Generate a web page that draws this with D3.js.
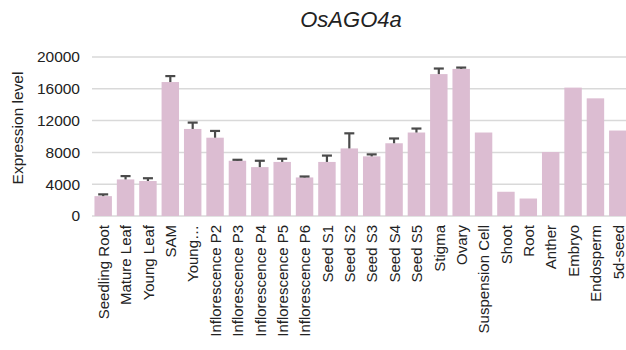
<!DOCTYPE html>
<html>
<head>
<meta charset="utf-8">
<script src="https://cdn.jsdelivr.net/npm/d3@7"></script>
<style>
  html, body { margin: 0; padding: 0; background: #fff; }
  svg { display: block; font-family: "Liberation Sans", Arial, sans-serif; }
</style>
</head>
<body>
<svg id="chart" width="626" height="350"></svg>
<script>
// Tissue expression of OsAGO4a
const tissues = [
  "Seedling Root", "Mature Leaf", "Young Leaf", "SAM", "Young\u2026",
  "Inflorescence P2", "Inflorescence P3", "Inflorescence P4", "Inflorescence P5", "Inflorescence P6",
  "Seed S1", "Seed S2", "Seed S3", "Seed S4", "Seed S5",
  "Stigma", "Ovary", "Suspension Cell", "Shoot", "Root",
  "Anther", "Embryo", "Endosperm", "5d-seed"
];
const expression = [
  2500, 4600, 4400, 16850, 10950,
  9850, 6950, 6150, 6800, 4850,
  6800, 8500, 7500, 9150, 10500,
  17850, 18500, 10500, 3050, 2200,
  8050, 16150, 14800, 10750
];
// upper error (standard deviation); null where no replicate error is shown
const errorUp = [
  220, 420, 350, 750, 800,
  850, 120, 800, 400, 120,
  800, 1900, 250, 600, 500,
  700, 170, null, null, null,
  null, null, null, null
];
const yTicks = [0, 4000, 8000, 12000, 16000, 20000];
const title = "OsAGO4a";
const yTitle = "Expression level";

const svg = d3.select("#chart");
const margin = { left: 92, right: -3, top: 57, bottom: 134 };
const W = 626, H = 350;

const x = d3.scaleBand()
  .domain(tissues)
  .range([margin.left, W - margin.right])
  .paddingInner(0.22)
  .paddingOuter(0.11);

const y = d3.scaleLinear()
  .domain([0, 20000])
  .range([H - margin.bottom, margin.top]);

// horizontal gridlines
svg.append("g")
  .selectAll("line")
  .data(yTicks)
  .join("line")
  .attr("x1", margin.left)
  .attr("x2", W)
  .attr("y1", d => y(d))
  .attr("y2", d => y(d))
  .attr("stroke", "#d9d9d9")
  .attr("stroke-width", 1.5);

// y tick labels
const yAxis = d3.axisLeft(y).tickValues(yTicks).tickSize(0).tickPadding(0).tickFormat(d3.format("d"));
const gy = svg.append("g")
  .attr("transform", `translate(${margin.left - 12},0)`)
  .call(yAxis);
gy.select(".domain").remove();
gy.selectAll("text")
  .attr("fill", "#222")
  .attr("font-size", "15.5px")
  .attr("font-family", "Liberation Sans, Arial, sans-serif");

// bars
svg.append("g")
  .selectAll("rect")
  .data(tissues)
  .join("rect")
  .attr("x", d => x(d))
  .attr("width", x.bandwidth())
  .attr("y", (d, i) => y(expression[i]))
  .attr("height", (d, i) => y(0) - y(expression[i]))
  .attr("fill", "#dcbdd2");

// error bars (upper only)
const errData = tissues.map((t, i) => ({ t, v: expression[i], e: errorUp[i] })).filter(d => d.e != null);
const eg = svg.append("g").attr("stroke", "#4a4a4a").attr("stroke-width", 2.2);
eg.selectAll("line.stem")
  .data(errData)
  .join("line")
  .attr("class", "stem")
  .attr("x1", d => x(d.t) + x.bandwidth() / 2)
  .attr("x2", d => x(d.t) + x.bandwidth() / 2)
  .attr("y1", d => y(d.v))
  .attr("y2", d => y(d.v + d.e));
eg.selectAll("line.cap")
  .data(errData)
  .join("line")
  .attr("class", "cap")
  .attr("x1", d => x(d.t) + x.bandwidth() / 2 - 5)
  .attr("x2", d => x(d.t) + x.bandwidth() / 2 + 5)
  .attr("y1", d => y(d.v + d.e))
  .attr("y2", d => y(d.v + d.e));

// x tick labels, rotated
const xAxis = d3.axisBottom(x).tickSize(0).tickPadding(0);
const gx = svg.append("g")
  .attr("transform", `translate(0,${y(0)})`)
  .call(xAxis);
gx.select(".domain").remove();
gx.selectAll("text")
  .attr("fill", "#222")
  .attr("font-size", "15px")
  .attr("font-family", "Liberation Sans, Arial, sans-serif")
  .attr("text-anchor", "end")
  .attr("transform", "rotate(-90)")
  .attr("x", -9)
  .attr("y", 0.5)
  .attr("dy", "0.35em");

// y axis title
svg.append("text")
  .attr("transform", `translate(23,128) rotate(-90)`)
  .attr("text-anchor", "middle")
  .attr("font-size", "15.5px")
  .attr("fill", "#222")
  .text(yTitle);

// chart title
svg.append("text")
  .attr("x", 351)
  .attr("y", 27)
  .attr("text-anchor", "middle")
  .attr("font-size", "22px")
  .attr("font-style", "italic")
  .attr("fill", "#222")
  .text(title);
</script>
</body>
</html>
